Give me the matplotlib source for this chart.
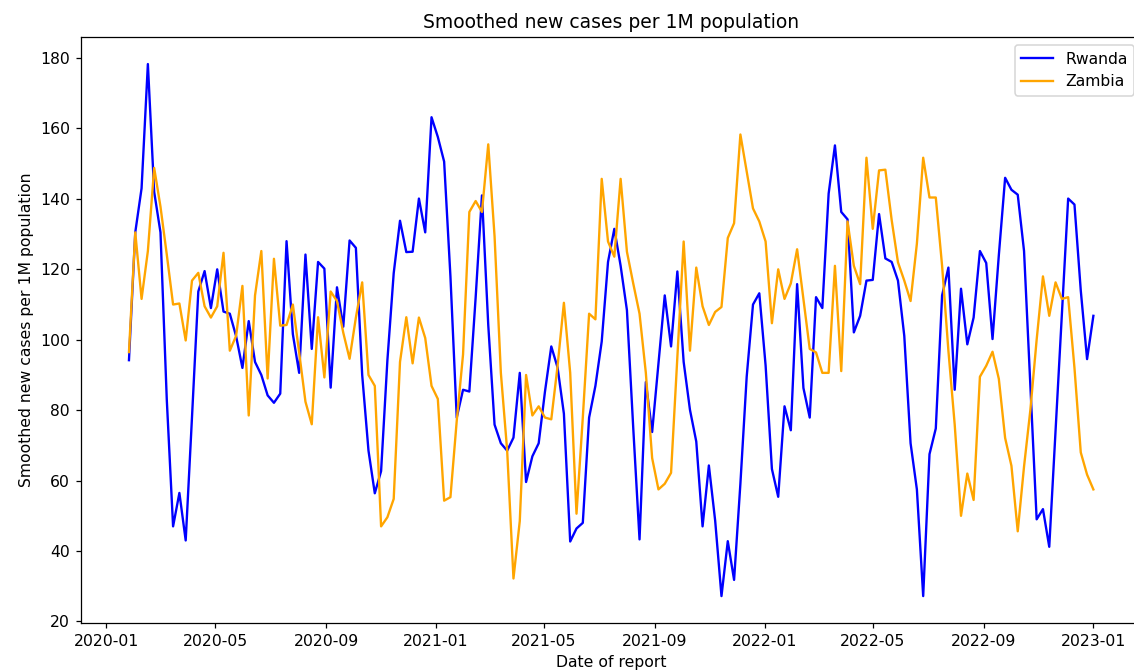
import numpy as np
import pandas as pd
import matplotlib
matplotlib.use('Agg')
import matplotlib.pyplot as plt
import matplotlib.dates as mdates

## weekly smoothed values, 2020-01-26 .. 2023-01-01
dates = pd.date_range('2020-01-26', periods=154, freq='7D')

rwanda = [
    94.2, 130.5, 143.0, 178.3, 142.0, 130.5, 83.0, 47.0, 56.5, 43.0,
    78.0, 113.7, 119.5, 109.0, 120.0, 108.0, 107.4, 101.0, 92.0, 105.3,
    93.7, 90.0, 84.2, 82.1, 84.7, 128.0, 101.6, 90.6, 124.2, 97.4,
    122.1, 120.2, 86.4, 114.9, 103.7, 128.2, 126.1, 90.0, 68.5, 56.4,
    62.7, 94.2, 118.9, 133.8, 124.9, 125.0, 140.1, 130.5, 163.2, 157.6,
    150.6, 118.0, 77.9, 85.8, 85.3, 112.0, 141.0, 104.2, 75.9, 70.6,
    68.5, 72.2, 90.6, 59.6, 66.9, 70.6, 85.3, 98.1, 92.1, 79.0,
    42.7, 46.4, 48.0, 77.9, 86.9, 99.5, 122.1, 131.5, 121.0, 108.4,
    75.0, 43.3, 88.0, 73.8, 93.2, 112.6, 98.1, 119.4, 93.7, 80.1,
    71.1, 47.0, 64.3, 48.6, 27.2, 42.8, 31.8, 59.1, 89.5, 110.0,
    113.2, 92.7, 63.3, 55.4, 81.1, 74.3, 115.8, 86.3, 77.9, 112.1,
    109.0, 141.5, 155.2, 136.3, 134.2, 102.1, 106.8, 116.8, 117.0, 135.7,
    123.1, 122.1, 116.8, 101.1, 70.6, 57.5, 27.2, 67.5, 74.8, 112.6,
    120.5, 85.8, 114.5, 98.7, 106.3, 125.2, 121.8, 100.2, 124.0, 146.0,
    142.6, 141.2, 125.2, 87.0, 49.0, 51.9, 41.2, 74.0, 107.0, 140.1,
    138.4, 114.0, 94.5, 106.8,
]

zambia = [
    96.5, 130.5, 111.6, 125.2, 148.8, 137.8, 124.2, 110.0, 110.3, 99.8,
    116.8, 119.0, 109.5, 106.3, 109.5, 124.7, 96.9, 101.1, 115.3, 78.5,
    112.6, 125.2, 89.0, 123.0, 104.0, 104.2, 110.0, 96.4, 82.4, 76.0,
    106.4, 89.3, 113.7, 111.0, 102.0, 94.6, 106.3, 116.3, 90.0, 86.9,
    47.0, 49.6, 54.8, 93.7, 106.4, 93.3, 106.3, 100.5, 86.9, 83.2,
    54.3, 55.3, 77.0, 95.8, 136.3, 139.4, 136.3, 155.5, 129.4, 90.6,
    68.5, 32.2, 48.5, 90.0, 78.5, 81.1, 77.9, 77.4, 92.6, 110.5,
    90.6, 50.6, 77.9, 107.4, 105.8, 145.7, 127.9, 123.6, 145.7, 125.0,
    116.0, 107.4, 90.6, 66.4, 57.5, 59.1, 62.2, 95.0, 127.9, 96.9,
    120.5, 109.5, 104.2, 107.9, 109.3, 128.9, 133.1, 158.3, 147.8, 137.3,
    133.6, 127.9, 104.7, 120.0, 111.6, 116.0, 125.7, 111.6, 97.4, 96.4,
    90.6, 90.6, 121.0, 91.1, 133.6, 121.0, 115.8, 151.7, 131.5, 148.1,
    148.3, 134.0, 122.0, 116.8, 111.0, 127.3, 151.7, 140.4, 140.4, 121.0,
    96.9, 75.9, 50.0, 62.0, 54.5, 89.5, 92.6, 96.6, 88.9, 72.1,
    64.2, 45.6, 64.0, 80.0, 100.0, 118.0, 106.8, 116.3, 111.6, 112.1,
    92.0, 68.0, 61.7, 57.5,
]

dpi = 112.5
fig = plt.figure(figsize=(1134 / dpi, 670 / dpi), dpi=dpi)
# axes run slightly past the right edge of the canvas
ax = fig.add_axes([0.0712, 0.0706, 0.9355, 0.8735])
ax.spines['right'].set_visible(False)

ax.plot(dates, rwanda, color='blue', label='Rwanda')
ax.plot(dates, zambia, color='orange', label='Zambia')

ax.xaxis.set_major_locator(mdates.MonthLocator(bymonth=[1, 5, 9]))
ax.xaxis.set_major_formatter(mdates.DateFormatter('%Y-%m'))

ax.set_title('Smoothed new cases per 1M population')
ax.set_xlabel('Date of report')
ax.set_ylabel('Smoothed new cases per 1M population')
ax.legend(loc='upper right')

fig.savefig('out.png', dpi=dpi)
